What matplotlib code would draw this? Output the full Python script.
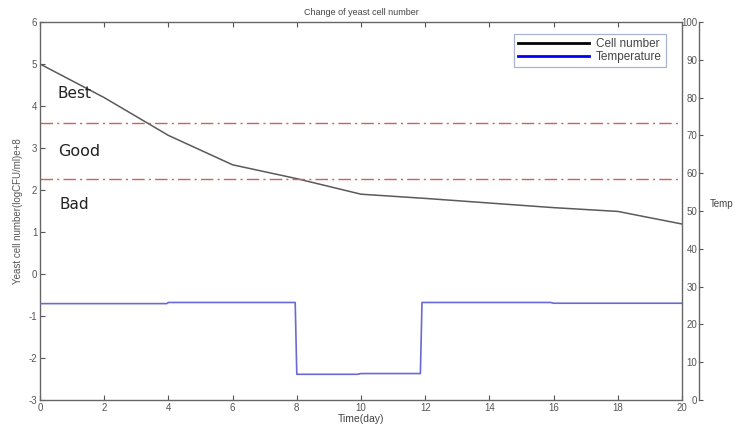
import matplotlib.pyplot as plt
from matplotlib.lines import Line2D

# cell number (log CFU/ml, e+8) by day
days = [0, 2, 4, 6, 8, 10, 12, 14, 16, 18, 20]
cell_number = [5.0, 4.2, 3.3, 2.6, 2.27, 1.9, 1.8, 1.69, 1.58, 1.49, 1.19]

# temperature profile
temp_days = [0, 3.95, 4.0, 7.95, 8.0, 9.9, 10.0, 11.85, 11.9, 15.9, 16.0, 20]
temperature = [25.5, 25.5, 25.8, 25.8, 6.8, 6.8, 7.0, 7.0, 25.8, 25.8, 25.6, 25.6]

# quality thresholds
best_line = 3.6
bad_line = 2.27

plt.rcParams['font.family'] = ['Liberation Sans', 'DejaVu Sans']
plt.rcParams['axes.unicode_minus'] = False

fig = plt.figure(figsize=(7.33, 4.28), dpi=100)
ax = fig.add_axes([40 / 733, 28 / 428, 642 / 733, 378 / 428])

ax.plot(days, cell_number, color='#5a5a5a', lw=1.1)
ax.axhline(best_line, color='#d06060', lw=1.0, ls=(0, (9, 3, 1.5, 3)))
ax.axhline(bad_line, color='#d06060', lw=1.0, ls=(0, (9, 3, 1.5, 3)))

ax.set_xlim(0, 20)
ax.set_ylim(-3, 6)
ax.set_xticks(range(0, 21, 2))
ax.set_yticks(range(-3, 7))
ax.tick_params(direction='in', length=3.5, top=True, right=True,
               labelsize=7, colors='#555555', width=0.8, pad=2)
for s in ax.spines.values():
    s.set_color('#666666')
    s.set_linewidth(1.0)

ax.set_title('Change of yeast cell number', fontsize=6.5, color='#444444', pad=5)
ax.set_xlabel('Time(day)', fontsize=7.5, color='#444444', labelpad=1)
ax.set_ylabel('Yeast cell number(logCFU/ml)e+8', fontsize=7, color='#555555', labelpad=4)

ax.text(0.55, 4.19, 'Best', fontsize=11, family='DejaVu Sans', color='#222222')
ax.text(0.55, 2.81, 'Good', fontsize=11.5, family='DejaVu Sans', color='#222222')
ax.text(0.62, 1.55, 'Bad', fontsize=11, family='DejaVu Sans', color='#222222')

ax2 = ax.twinx()
ax2.plot(temp_days, temperature, color='#6a6ad0', lw=1.2)
ax2.set_ylim(0, 100)
ax2.set_yticks(range(0, 101, 10))
ax2.spines['right'].set_position(('outward', 12))
ax2.spines['right'].set_color('#666666')
ax2.spines['right'].set_linewidth(1.0)
for side in ['left', 'top', 'bottom']:
    ax2.spines[side].set_visible(False)
ax2.tick_params(axis='y', direction='out', length=3, width=0.8,
                labelsize=7, colors='#555555', pad=-4)
for lab in ax2.get_yticklabels():
    lab.set_ha('right')

fig.text(710 / 733, 1 - 204 / 428, 'Temperature', fontsize=7, color='#444444',
         va='center', ha='left')

handles = [Line2D([], [], color='black', lw=2),
           Line2D([], [], color='blue', lw=2)]
leg = ax.legend(handles, ['Cell number', 'Temperature'], loc='upper right',
                fontsize=8.5, fancybox=False, framealpha=1, handlelength=6,
                borderaxespad=0.7, labelspacing=0.05, borderpad=0.35,
                handletextpad=0.6, bbox_to_anchor=(0.988, 0.99))
leg.get_frame().set_edgecolor('#a8b4d0')
leg.get_frame().set_linewidth(0.9)
for t in leg.get_texts():
    t.set_color('#444444')

fig.savefig('out.png', dpi=100)
